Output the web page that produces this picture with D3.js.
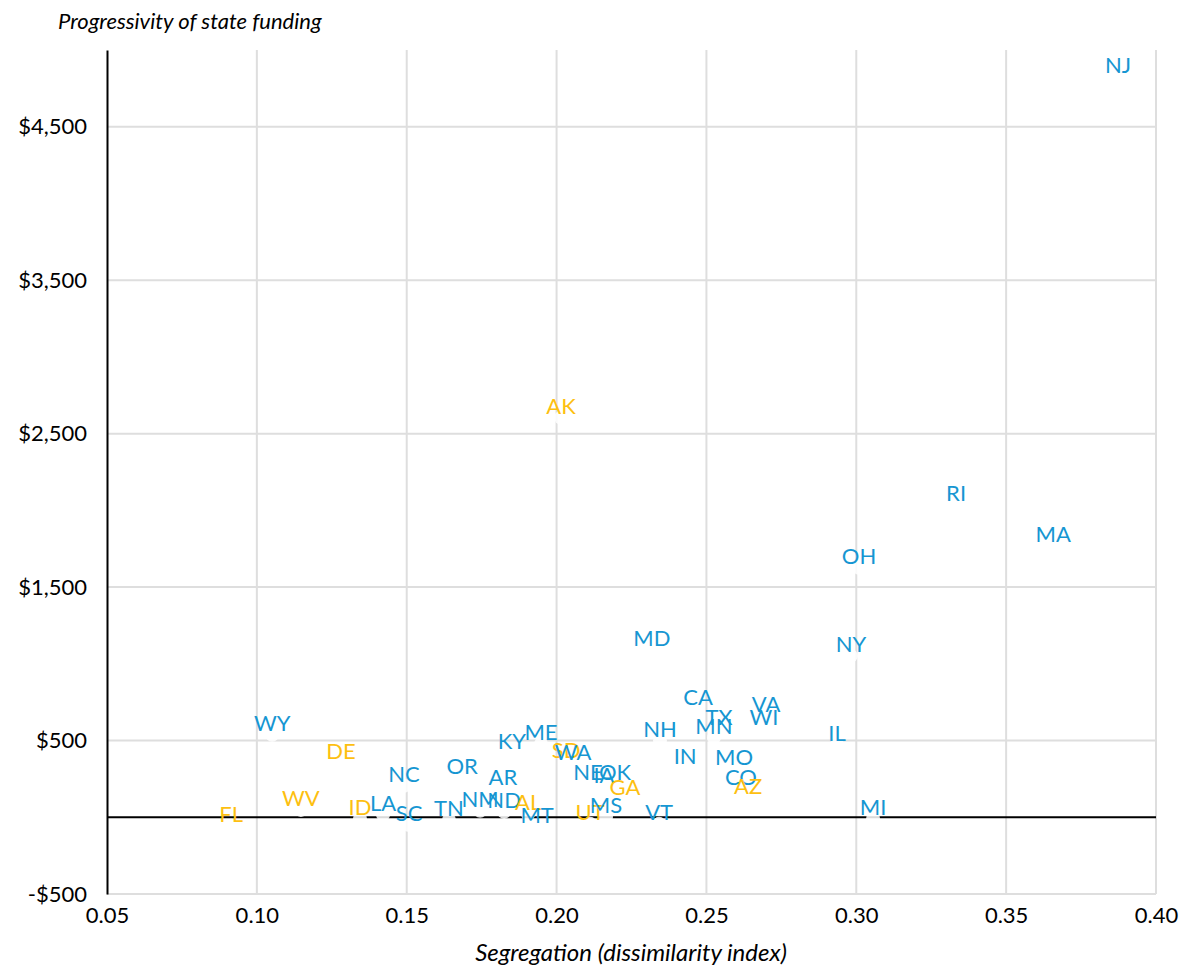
<!DOCTYPE html>
<html><head><meta charset="utf-8">
<script src="https://cdn.jsdelivr.net/npm/d3@7"></script>
<style>body{margin:0;background:#fff;} text{font-family:Lato,"Open Sans",sans-serif;}</style>
</head><body><svg id="c" width="1183" height="966"></svg>
<script>
const states = ["NJ","RI","MA","OH","NY","MD","AK","CA","VA","WI","TX","MN","NH","IL","WY","DE","ME","KY","SD","WA","IN","MO","NC","OR","AR","NE","IA","OK","GA","CO","AZ","WV","FL","ID","LA","SC","TN","NM","ND","AL","MT","UT","MS","VT","MI"];
const segregation = [0.3873,0.3333,0.3657,0.3009,0.2982,0.2318,0.2015,0.2472,0.2699,0.2692,0.2542,0.2525,0.2345,0.2936,0.1051,0.1281,0.1948,0.1851,0.2032,0.2055,0.2429,0.2592,0.1491,0.1685,0.1821,0.2105,0.2158,0.2195,0.2228,0.2615,0.2639,0.1147,0.0914,0.1344,0.1421,0.1508,0.1641,0.1745,0.1825,0.1905,0.1935,0.2112,0.2165,0.2342,0.3056];
const progressivity = [4827,2037,1769,1626,1052,1091,2604,707,660,575,575,518,498,472,537,356,478,420,362,350,322,316,205,257,186,219,199,219,120,186,128,48,-56,-10,16,-50,-17,42,35,22,-62,-43,3,-43,-10];
const group = ["b","b","b","b","b","b","o","b","b","b","b","b","b","b","b","o","b","b","o","b","b","b","b","b","b","b","b","b","o","b","o","o","o","o","b","b","b","b","b","o","b","o","b","b","b"];
const xTicks = [0.05,0.10,0.15,0.20,0.25,0.30,0.35,0.40];
const yTicks = [-500,500,1500,2500,3500,4500];

const svg = d3.select("#c");
const m = {l:107, r:1156, t:50, b:894};
const x = d3.scaleLinear().domain([0.05,0.40]).range([m.l,m.r]);
const y = d3.scaleLinear().domain([-500,5000]).range([m.b,m.t]);
const color = {b:"#1696d2", o:"#fdbf11"};

// grid
svg.append("g").selectAll("line").data(xTicks.slice(1)).join("line")
  .attr("x1",d=>x(d)).attr("x2",d=>x(d)).attr("y1",m.t).attr("y2",m.b)
  .attr("stroke","#dedede").attr("stroke-width",2);
svg.append("g").selectAll("line").data(yTicks).join("line")
  .attr("x1",m.l).attr("x2",m.r).attr("y1",d=>y(d)).attr("y2",d=>y(d))
  .attr("stroke","#dedede").attr("stroke-width",2);

// zero line
svg.append("line").attr("x1",m.l).attr("x2",m.r).attr("y1",y(0)).attr("y2",y(0)).attr("stroke","#000").attr("stroke-width",2);

// axes
const yAxis = d3.axisLeft(y).tickValues(yTicks).tickSize(0).tickPadding(20)
  .tickFormat(d=> (d<0?"-$":"$") + d3.format(",")(Math.abs(d)));
const gy = svg.append("g").attr("transform",`translate(${m.l},0)`).call(yAxis);
gy.select(".domain").attr("stroke","#000").attr("stroke-width",2);
gy.selectAll("text").attr("font-size",22).attr("fill","#000").attr("font-family","Lato");

const xAxis = d3.axisBottom(x).tickValues(xTicks).tickSize(0).tickPadding(13).tickFormat(d3.format(".2f"));
const gx = svg.append("g").attr("transform",`translate(0,${m.b})`).call(xAxis);
gx.select(".domain").remove();
gx.selectAll("text").attr("font-size",22).attr("fill","#000").attr("font-family","Lato");

// axis titles
svg.append("text").attr("x",58).attr("y",29).attr("font-size",22).attr("font-style","italic").attr("fill","#000").text("Progressivity of state funding");
svg.append("text").attr("x",631).attr("y",961).attr("text-anchor","middle").attr("font-size",24).attr("font-style","italic").attr("fill","#000").text("Segregation (dissimilarity index)");

const data = states.map((s,i)=>({s, x:segregation[i], y:progressivity[i], g:group[i]}));

// markers (white)
svg.append("g").selectAll("circle").data(data).join("circle")
  .attr("cx",d=>x(d.x)).attr("cy",d=>y(d.y)).attr("r",7)
  .attr("fill","#fff").attr("opacity",0.85);

// labels
svg.append("g").selectAll("text").data(data).join("text")
  .attr("x",d=>x(d.x)).attr("y",d=>y(d.y)-4)
  .attr("text-anchor","middle").attr("font-size",22)
  .attr("fill",d=>color[d.g]).text(d=>d.s);
</script></body></html>
